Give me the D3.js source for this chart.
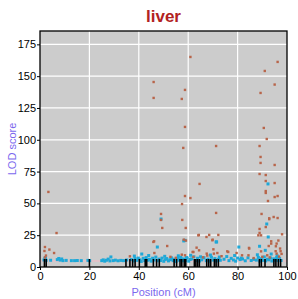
<!DOCTYPE html>
<html>
<head>
<meta charset="utf-8">
<script src="https://cdn.jsdelivr.net/npm/d3@7"></script>
<style>
  body { margin: 0; background: #fff; }
  text { font-family: "Liberation Sans", Arial, sans-serif; }
</style>
</head>
<body>
<svg width="298" height="299"></svg>
<script>
// high LOD (red) points: [position cM, LOD]
const redPos = [60.9, 96.2, 91.0, 46.0, 58.7, 95.0, 89.3, 46.0, 57.4, 58.7, 90.6, 91.8, 58.0, 71.3, 88.9,
  89.3, 89.3, 95.0, 88.9, 91.4, 91.4, 95.0, 64.6, 91.4, 91.4, 96.2, 95.0, 58.7, 60.9, 92.3, 57.5, 71.3,
  49.0, 49.0, 89.7, 92.8, 92.8, 94.6, 96.2, 57.6, 49.5, 59.0, 91.4, 88.9, 88.9, 88.4, 89.5, 98.0, 93.6,
  93.6, 96.5, 95.8, 92.6, 95.5, 97.2, 89.5, 95.4, 97.4, 95.8, 97.8, 92.0, 75.8, 84.7, 79.6, 81.8, 84.4,
  68.5, 64.3, 72.2, 46.2, 69.9, 58.2, 59.1, 51.5, 57.4, 62.1, 64.4, 84.6, 76.2, 64.1, 67.4, 69.8, 70.2,
  63.4, 67.5, 58.7, 61.8, 62.1, 67.7, 70.4, 71.8, 3.4, 6.7, 2.0, 1.8, 3.8, 5.7, 2.4, 2.0, 36.4, 46.3,
  45.9, 90.0, 93.0, 96.8, 86.5, 73.5, 55.0, 52.8, 66.0];
const redLod = [165.1, 161.2, 154.1, 145.4, 139.2, 143.4, 136.8, 132.9, 132.1, 110.1, 109.3, 100.6, 93.6, 95.1, 95.1,
  86.5, 81.8, 80.2, 73.1, 72.3, 67.6, 66.0, 65.3, 59.7, 58.2, 55.8, 55.0, 55.8, 54.2, 51.9, 49.5, 42.5,
  41.7, 37.0, 41.7, 38.3, 37.6, 39.3, 38.5, 37.0, 30.7, 30.7, 31.4, 29.9, 26.8, 24.9, 24.9, 25.7, 20.2,
  18.4, 20.8, 18.4, 16.5, 16.3, 14.5, 12.3, 12.4, 12.4, 10.5, 10.3, 9.2, 12.3, 14.5, 11.0, 9.2, 9.2,
  25.2, 25.2, 25.2, 20.2, 21.5, 21.5, 20.8, 16.5, 9.7, 11.8, 13.1, 15.0, 11.8, 24.9, 23.6, 21.0, 13.9,
  15.2, 10.5, 9.2, 11.8, 7.9, 9.0, 10.5, 11.0, 59.0, 26.7, 15.7, 12.6, 13.7, 11.0, 9.0, 7.5, 8.4, 11.0,
  19.7, 8.0, 7.5, 8.2, 7.0, 8.5, 7.2, 8.0, 7.6];

// low LOD (blue) points
const bluePos = [92.3, 49.0, 91.8, 47.5, 58.2, 71.3, 92.4, 88.9, 91.2, 80.5, 41.2, 28.7, 58.7, 71.5,
  1.6, 2.0, 2.5, 2.2, 4.3, 7.0, 7.6, 8.2, 8.8, 9.3, 10.6, 12.7, 14.0, 15.1, 16.7, 19.4, 20.1,
  25.0, 25.6, 26.2, 26.9, 27.6, 28.3, 29.6, 30.5, 31.6, 32.7, 33.8, 35.1,
  37.0, 37.8, 38.5, 39.1, 39.8, 40.5, 41.0, 41.8, 42.4, 43.0, 43.7, 44.3, 45.0, 45.6, 46.2, 46.9, 47.5,
  48.2, 48.8, 49.4, 50.1, 50.7, 51.3, 52.0, 52.6, 53.2, 53.9, 54.5, 55.1, 55.8, 56.4, 57.0, 57.7, 58.3,
  58.9, 59.6, 60.2, 60.8, 61.4, 62.3, 63.0, 63.8, 64.6, 65.5, 66.4, 67.3, 68.0, 68.7, 69.4, 70.1, 70.8,
  71.5, 72.2, 73.0, 74.5, 75.6, 76.5, 77.4, 78.3, 79.2, 80.0, 81.0, 82.0, 83.1, 84.2, 85.5, 86.5, 87.6,
  88.4, 89.0, 89.6, 90.2, 90.8, 91.4, 92.0, 92.7, 93.3, 93.9, 94.6, 95.2, 95.8, 96.4, 97.0, 97.6,
  38.2, 44.0, 50.5, 53.5, 56.0, 59.3, 61.0, 65.0, 69.0, 72.6, 78.8, 81.5, 88.0, 93.6, 96.0, 57.2];
const blueLod = [65.3, 37.7, 33.8, 15.7, 20.5, 19.7, 23.6, 16.3, 13.1, 15.7, 10.2, 7.9, 21.0, 19.7,
  5.5, 6.8, 5.2, 7.2, 5.3, 5.8, 6.7, 5.4, 6.3, 5.0, 5.2, 5.0, 5.0, 5.1, 5.0, 5.2, 5.0,
  5.0, 5.6, 4.6, 5.3, 6.2, 4.8, 5.0, 5.4, 4.9, 5.2, 5.0, 5.5,
  5.8, 4.8, 6.6, 5.2, 7.0, 5.6, 4.4, 6.8, 5.0, 7.4, 5.3, 6.0, 4.6, 6.9, 5.5, 7.8, 4.9,
  6.2, 5.1, 7.0, 4.5, 5.8, 6.6, 4.8, 5.7, 7.2, 5.0, 6.1, 4.4, 6.8, 5.3, 7.6, 4.9, 6.3,
  5.2, 7.0, 4.6, 5.9, 6.4, 8.0, 5.1, 6.9, 4.7, 5.6, 7.3, 5.0, 6.2, 4.5, 7.7, 5.4, 6.6,
  4.8, 6.0, 5.3, 6.1, 8.2, 5.0, 6.8, 5.5, 4.6, 7.0, 5.8, 6.3, 4.9, 7.2, 5.1, 6.0, 5.4,
  7.5, 4.6, 6.5, 5.2, 7.9, 4.8, 6.1, 5.6, 7.1, 4.7, 6.4, 5.3, 7.3, 5.0, 6.7, 5.1,
  8.6, 9.0, 8.4, 6.0, 8.8, 7.4, 9.2, 8.0, 9.4, 7.8, 9.0, 7.0, 9.6, 10.2, 8.8, 6.4];

// marker positions along the axis (cM)
const markers = [1.8, 2.5, 20.0, 34.8, 36.4, 37.5, 38.5, 40.2, 42.6, 43.2, 45.9, 47.2, 48.3,
  54.3, 55.3, 56.7, 57.4, 58.4, 59.0, 62.5, 63.1, 63.8, 64.5, 67.5, 68.3, 69.1, 70.6, 71.3, 72.2,
  88.8, 89.6, 91.1, 94.7, 95.5, 96.5, 97.4];

const threshold = 4.7;
const xTicks = [0, 20, 40, 60, 80, 100];
const yTicks = [0, 25, 50, 75, 100, 125, 150, 175];

const svg = d3.select('svg');
const margin = {top: 31, right: 11, bottom: 32, left: 40};
const width = +svg.attr('width');
const height = +svg.attr('height');
const innerWidth = width - margin.left - margin.right;
const innerHeight = height - margin.top - margin.bottom;

const xScale = d3.scaleLinear().domain([0, 100]).range([0, innerWidth]);
const yScale = d3.scaleLinear().domain([0, 185.5]).range([innerHeight, 0]);

const g = svg.append('g')
  .attr('transform', `translate(${margin.left}, ${margin.top})`);

g.append('rect')
  .attr('width', innerWidth)
  .attr('height', innerHeight)
  .attr('fill', '#cccccc');

// grid lines
g.append('g').selectAll('line').data(xTicks.slice(1, -1))
  .enter().append('line')
    .attr('x1', d => xScale(d)).attr('x2', d => xScale(d))
    .attr('y1', 0).attr('y2', innerHeight)
    .attr('stroke', '#ffffff').attr('stroke-width', 1.2);
g.append('g').selectAll('line').data(yTicks.slice(1))
  .enter().append('line')
    .attr('y1', d => yScale(d)).attr('y2', d => yScale(d))
    .attr('x1', 0).attr('x2', innerWidth)
    .attr('stroke', '#ffffff').attr('stroke-width', 1.2);

// threshold line
g.append('line')
  .attr('x1', 0).attr('x2', innerWidth)
  .attr('y1', yScale(threshold)).attr('y2', yScale(threshold))
  .attr('stroke', '#f2b8c4').attr('stroke-width', 1.2);

const blue = d3.range(bluePos.length).map(i => ({x: bluePos[i], y: blueLod[i]}));
const red = d3.range(redPos.length).map(i => ({x: redPos[i], y: redLod[i]}));

g.append('g').selectAll('rect').data(blue)
  .enter().append('rect')
    .attr('x', d => xScale(d.x) - 1.5)
    .attr('y', d => yScale(d.y) - 1.5)
    .attr('width', 3).attr('height', 3)
    .attr('fill', '#1ea8d8');

g.append('g').selectAll('rect').data(red)
  .enter().append('rect')
    .attr('x', d => xScale(d.x) - 1.2)
    .attr('y', d => yScale(d.y) - 1.2)
    .attr('width', 2.4).attr('height', 2.4)
    .attr('fill', '#b8654a');

// marker rug
g.append('g').selectAll('line').data(markers)
  .enter().append('line')
    .attr('x1', d => xScale(d)).attr('x2', d => xScale(d))
    .attr('y1', innerHeight).attr('y2', innerHeight - 8)
    .attr('stroke', '#000').attr('stroke-width', 1.6);

// border
g.append('rect')
  .attr('width', innerWidth)
  .attr('height', innerHeight)
  .attr('fill', 'none')
  .attr('stroke', '#000')
  .attr('stroke-width', 1.3);

// axes
const xAxisG = g.append('g')
  .attr('transform', `translate(0, ${innerHeight})`)
  .call(d3.axisBottom(xScale).tickValues(xTicks).tickSize(3).tickPadding(2));
const yAxisG = g.append('g')
  .call(d3.axisLeft(yScale).tickValues(yTicks).tickSize(3).tickPadding(1));
[xAxisG, yAxisG].forEach(a => {
  a.select('.domain').remove();
  a.selectAll('text').attr('font-size', 11).attr('fill', '#000')
    .attr('font-family', '"Liberation Sans", Arial, sans-serif');
});

svg.append('text')
  .attr('x', margin.left + innerWidth / 2)
  .attr('y', 22)
  .attr('text-anchor', 'middle')
  .attr('font-size', 17)
  .attr('font-weight', 'bold')
  .attr('fill', '#b22222')
  .text('liver');

svg.append('text')
  .attr('x', margin.left + innerWidth / 2)
  .attr('y', 296)
  .attr('text-anchor', 'middle')
  .attr('font-size', 11)
  .attr('fill', '#7b68ee')
  .text('Position (cM)');

svg.append('text')
  .attr('transform', `translate(16, ${margin.top + innerHeight / 2}) rotate(-90)`)
  .attr('text-anchor', 'middle')
  .attr('font-size', 11)
  .attr('fill', '#7b68ee')
  .text('LOD score');
</script>
</body>
</html>
